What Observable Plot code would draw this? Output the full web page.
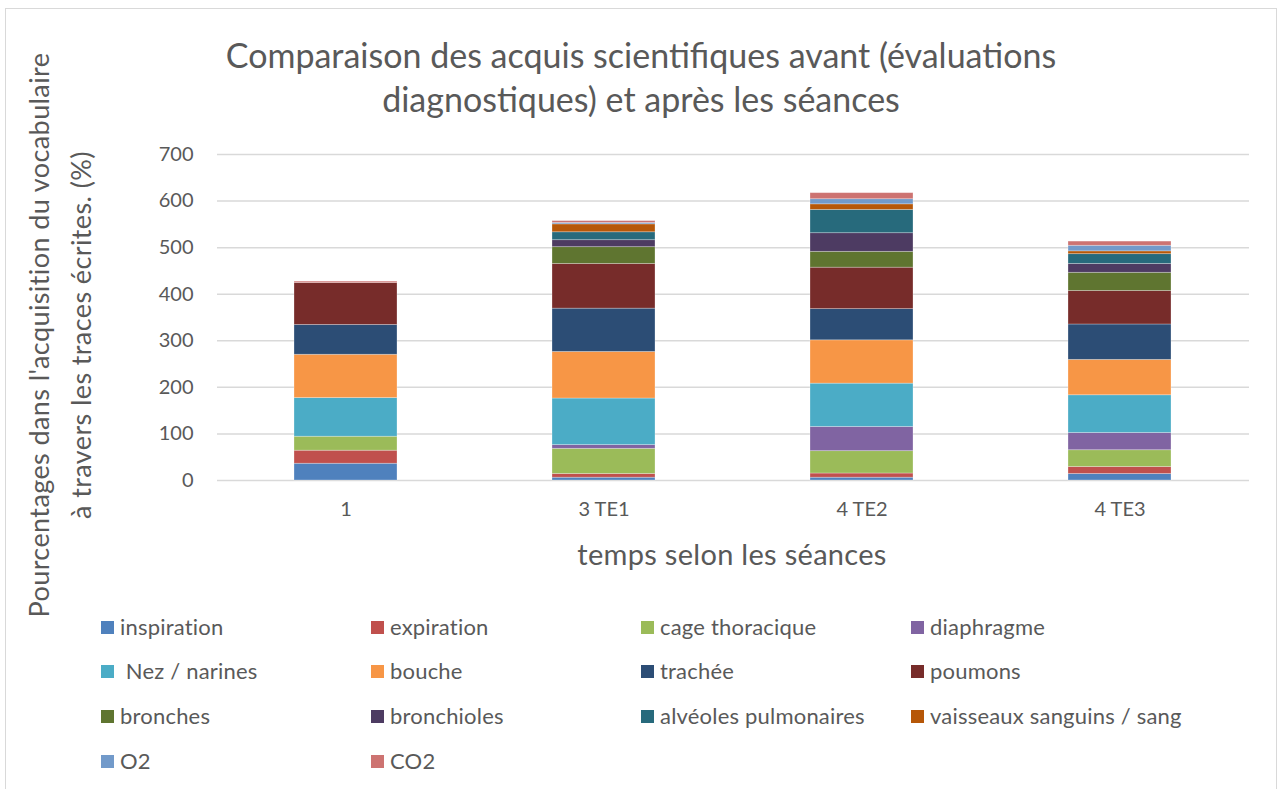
<!DOCTYPE html>
<html><head><meta charset="utf-8">
<script src="https://cdn.jsdelivr.net/npm/d3@7"></script>
<script src="https://cdn.jsdelivr.net/npm/@observablehq/plot@0.6"></script>
<style>
body{margin:0;background:#fff;font-family:Lato,"Open Sans",sans-serif;color:#595959;}
#wrap{position:relative;width:1286px;height:789px;overflow:hidden;}
#frame{position:absolute;left:5px;top:8px;width:1272px;height:820px;border:1px solid #d9d9d9;box-sizing:border-box;}
#chart{position:absolute;left:0;top:0;}
#title{position:absolute;left:0;width:1282px;top:33px;text-align:center;font-size:34px;line-height:44px;font-weight:400;}
#ylab{position:absolute;left:-289px;top:292px;width:700px;height:86px;transform:rotate(-90deg);text-align:center;font-size:27px;line-height:42px;letter-spacing:0.4px;}
#xlab{position:absolute;left:0;width:1464px;top:536px;text-align:center;font-size:29px;letter-spacing:0.3px;}
.lg{position:absolute;font-size:22px;line-height:26px;white-space:pre;letter-spacing:0.2px;}
.sw{position:absolute;width:13px;height:13px;}
</style>
</head><body>
<div id="wrap">
  <div id="frame"></div>
  <div id="chart"></div>
  <div id="title">Comparaison des acquis scientifiques avant (évaluations<br>diagnostiques) et après les séances</div>
  <div id="ylab">Pourcentages dans l'acquisition du vocabulaire<br>à travers les traces écrites. (%)</div>
  <div id="xlab">temps selon les séances</div>
  <div id="legend"></div>
</div>
<script>
const categories = ["1", "3 TE1", "4 TE2", "4 TE3"];
const seriesNames = ["inspiration", "expiration", "cage thoracique", "diaphragme",
  " Nez / narines", "bouche", "trachée", "poumons",
  "bronches", "bronchioles", "alvéoles pulmonaires", "vaisseaux sanguins / sang",
  "O2", "CO2"];
const seriesColors = ["#4F81BD", "#C0504D", "#9BBB59", "#8064A2",
  "#4BACC6", "#F79646", "#2C4D75", "#772C2A",
  "#5F7530", "#4D3B62", "#276A7C", "#B65708",
  "#729ACA", "#CD7371"];
const inspiration = [36, 6, 6, 14];
const expiration = [28, 8, 9, 15];
const cageThoracique = [30, 54, 48, 36];
const diaphragme = [0, 8, 52, 37];
const nezNarines = [83, 100, 93, 81];
const bouche = [93, 100, 93, 76];
const trachee = [64, 93, 67, 76];
const poumons = [90, 96, 89, 72];
const bronches = [0, 36, 34, 39];
const bronchioles = [0, 15, 40, 19];
const alveoles = [0, 17, 50, 21];
const vaisseaux = [0, 17, 12, 6];
const o2 = [0, 3, 11, 12];
const co2 = [3, 4, 13, 9];
const yTicks = [0, 100, 200, 300, 400, 500, 600, 700];

const seriesValues = [inspiration, expiration, cageThoracique, diaphragme, nezNarines, bouche,
  trachee, poumons, bronches, bronchioles, alveoles, vaisseaux, o2, co2];

const rows = [];
categories.forEach((c, ci) => {
  seriesNames.forEach((s, si) => rows.push({cat: c, series: s, value: seriesValues[si][ci]}));
});

const chart = Plot.plot({
  width: 1286,
  height: 560,
  marginLeft: 217,
  marginRight: 37,
  marginTop: 154,
  marginBottom: 80,
  style: {fontFamily: "Lato, 'Open Sans', sans-serif", color: "#595959", background: "transparent", overflow: "visible"},
  x: {domain: categories, paddingInner: 0.6, paddingOuter: 0.3, axis: null},
  y: {domain: [0, 700], axis: null},
  color: {domain: seriesNames, range: seriesColors},
  marks: [
    Plot.gridY(yTicks, {stroke: "#d9d9d9", strokeOpacity: 1, strokeWidth: 1.5}),
    Plot.barY(rows, {x: "cat", y: "value", fill: "series", order: seriesNames,
      stroke: "#ffffff", strokeOpacity: 0.35, strokeWidth: 0.8, inset: 0}),
    Plot.axisY(yTicks, {tickSize: 0, tickPadding: 24, fontSize: 20, label: null, fill: "#595959"}),
    Plot.axisX({tickSize: 0, tickPadding: 21, fontSize: 20, label: null, fill: "#595959"})
  ]
});
document.getElementById("chart").appendChild(chart);

const legend = document.getElementById("legend");
const colX = [101, 371, 641, 911];
const rowY = [628, 672, 717, 762];
seriesNames.forEach((s, i) => {
  const cx = colX[i % 4], cy = rowY[Math.floor(i / 4)];
  const sw = document.createElement("div");
  sw.className = "sw";
  sw.style.left = cx + "px"; sw.style.top = (cy - 7) + "px";
  sw.style.background = seriesColors[i];
  legend.appendChild(sw);
  const t = document.createElement("div");
  t.className = "lg";
  t.style.left = (cx + 19) + "px"; t.style.top = (cy - 14) + "px";
  t.textContent = s;
  legend.appendChild(t);
});
</script>
</body></html>
